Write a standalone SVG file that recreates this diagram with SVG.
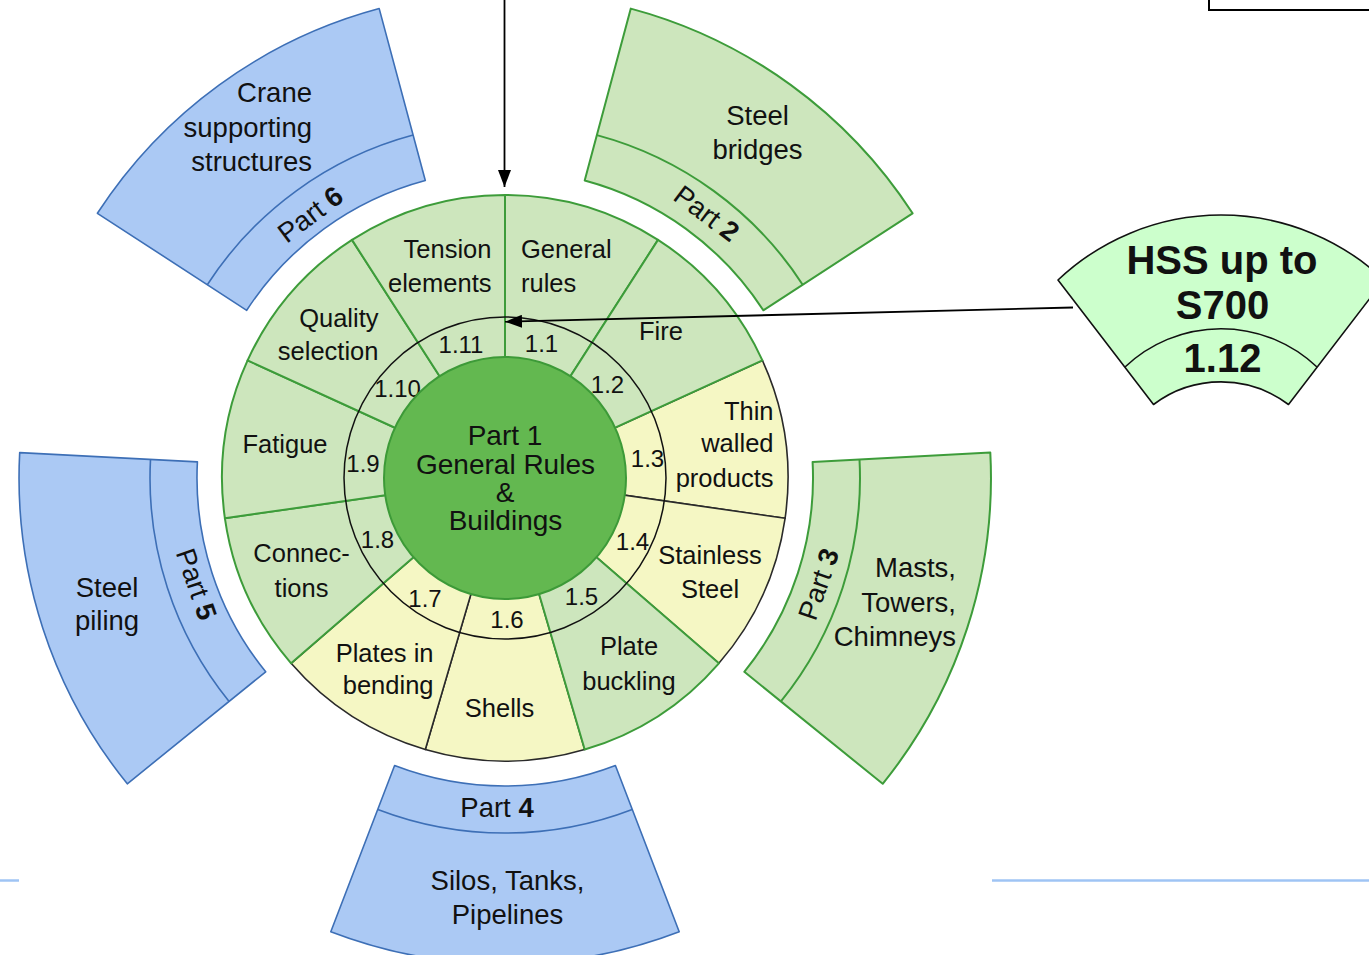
<svg xmlns="http://www.w3.org/2000/svg" width="1369" height="955" viewBox="0 0 1369 955">
  <style>
    text { font-family: "Liberation Sans", Arial, sans-serif; fill: #111; }
    .lbl { font-size: 25.5px; }
    .num { font-size: 24px; text-anchor: middle; }
    .mid { text-anchor: middle; }
    .end { text-anchor: end; }
    .start { text-anchor: start; }
    .big { font-size: 27.5px; }
    .ctr { font-size: 28px; text-anchor: middle; }
    .hss { font-size: 40px; font-weight: bold; text-anchor: middle; }
    .g { fill: #cde6bd; stroke: #3d9c3a; stroke-width: 2; stroke-linejoin: round; }
    .y { fill: #f5f7c4; stroke: #2a2a2a; stroke-width: 1.6; stroke-linejoin: round; }
    .pg { fill: #cde6bd; stroke: #3d9c3a; stroke-width: 2; stroke-linejoin: round; }
    .pb { fill: #abc9f4; stroke: #3d6fb6; stroke-width: 1.6; stroke-linejoin: round; }
    .dg { fill: none; stroke: #3d9c3a; stroke-width: 2; }
    .db { fill: none; stroke: #3d6fb6; stroke-width: 1.6; }
    .wire { fill: none; stroke: #000; stroke-width: 1.8; }
  </style>
  <defs>
    <marker id="head" markerUnits="userSpaceOnUse" markerWidth="17" markerHeight="13" viewBox="0 0 17 13" refX="17" refY="6.5" orient="auto">
      <path d="M0,0 L17,6.5 L0,13 z" fill="#000"/>
    </marker>
  </defs>

  <!-- guide lines near the bottom -->
  <g id="baselines">
    <line x1="0" y1="880.5" x2="19" y2="880.5" stroke="#9fc4f4" stroke-width="2.5"/>
    <line x1="992" y1="880.5" x2="1369" y2="880.5" stroke="#9fc4f4" stroke-width="2.5"/>
  </g>

  <!-- frame at the top right -->
  <g id="frame">
    <rect x="1209" y="-10" width="200" height="20" fill="none" stroke="#000" stroke-width="2"/>
  </g>

  <!-- Part 6 -->
  <g id="part6">
    <path class="pb" d="M246.7 310.3 L97.4 213.3 A486 486 0 0 1 379.2 8.6 L425.3 180.5 A308 308 0 0 0 246.7 310.3 Z"/>
    <path class="db" d="M207.3 284.7 A355 355 0 0 1 413.1 135.1"/>
    <text class="big end" x="312" y="102">Crane</text>
    <text class="big end" x="312" y="137">supporting</text>
    <text class="big end" x="312" y="171">structures</text>
    <text class="big mid" transform="translate(310 214) rotate(-37)" y="10">Part <tspan font-weight="bold">6</tspan></text>
  </g>

  <!-- Part 2 -->
  <g id="part2">
    <path class="pg" d="M584.7 180.5 L630.8 8.6 A486 486 0 0 1 912.6 213.3 L763.3 310.3 A308 308 0 0 0 584.7 180.5 Z"/>
    <path class="dg" d="M596.9 135.1 A355 355 0 0 1 802.7 284.7"/>
    <text class="big mid" x="757.5" y="125">Steel</text>
    <text class="big mid" x="757.5" y="159">bridges</text>
    <text class="big mid" transform="translate(707 213) rotate(37)" y="10">Part <tspan font-weight="bold">2</tspan></text>
  </g>

  <!-- Part 3 -->
  <g id="part3">
    <path class="pg" d="M812.6 461.9 L990.3 452.6 A486 486 0 0 1 882.7 783.8 L744.3 671.8 A308 308 0 0 0 812.6 461.9 Z"/>
    <path class="dg" d="M859.5 459.4 A355 355 0 0 1 780.9 701.4"/>
    <text class="big end" x="956" y="577">Masts,</text>
    <text class="big end" x="956" y="612">Towers,</text>
    <text class="big end" x="956" y="646">Chimneys</text>
    <text class="big mid" transform="translate(818 584) rotate(-71)" y="10">Part <tspan font-weight="bold">3</tspan></text>
  </g>

  <!-- Part 4 -->
  <g id="part4">
    <path class="pb" d="M615.4 765.5 L679.2 931.7 A486 486 0 0 1 330.8 931.7 L394.6 765.5 A308 308 0 0 0 615.4 765.5 Z"/>
    <path class="db" d="M632.2 809.4 A355 355 0 0 1 377.8 809.4"/>
    <text class="big mid" x="497" y="817">Part <tspan font-weight="bold">4</tspan></text>
    <text class="big mid" x="507.5" y="890">Silos, Tanks,</text>
    <text class="big mid" x="507.5" y="924">Pipelines</text>
  </g>

  <!-- Part 5 -->
  <g id="part5">
    <path class="pb" d="M265.7 671.8 L127.3 783.8 A486 486 0 0 1 19.7 452.6 L197.4 461.9 A308 308 0 0 0 265.7 671.8 Z"/>
    <path class="db" d="M229.1 701.4 A355 355 0 0 1 150.5 459.4"/>
    <text class="big mid" x="107" y="597">Steel</text>
    <text class="big mid" x="107" y="630">piling</text>
    <text class="big mid" transform="translate(197 584) rotate(71)" y="10">Part <tspan font-weight="bold">5</tspan></text>
  </g>

  <!-- Part 1: eleven sectors round the core -->
  <g id="part1-sectors">
    <path id="s1-3" class="y" d="M505 478 L762.4 360.4 A283 283 0 0 1 785.1 518.3 Z"/>
    <path id="s1-4" class="y" d="M505 478 L785.1 518.3 A283 283 0 0 1 718.9 663.3 Z"/>
    <path id="s1-6" class="y" d="M505 478 L584.7 749.5 A283 283 0 0 1 425.3 749.5 Z"/>
    <path id="s1-7" class="y" d="M505 478 L425.3 749.5 A283 283 0 0 1 291.1 663.3 Z"/>
    <path id="s1-1" class="g" d="M505 478 L505 195 A283 283 0 0 1 658 239.9 Z"/>
    <path id="s1-2" class="g" d="M505 478 L658 239.9 A283 283 0 0 1 762.4 360.4 Z"/>
    <path id="s1-5" class="g" d="M505 478 L718.9 663.3 A283 283 0 0 1 584.7 749.5 Z"/>
    <path id="s1-8" class="g" d="M505 478 L291.1 663.3 A283 283 0 0 1 224.9 518.3 Z"/>
    <path id="s1-9" class="g" d="M505 478 L224.9 518.3 A283 283 0 0 1 247.6 360.4 Z"/>
    <path id="s1-10" class="g" d="M505 478 L247.6 360.4 A283 283 0 0 1 352 239.9 Z"/>
    <path id="s1-11" class="g" d="M505 478 L352 239.9 A283 283 0 0 1 505 195 Z"/>
    <circle cx="505" cy="478" r="161" fill="none" stroke="#111" stroke-width="1.5"/>
  </g>

  <g id="part1-labels">
    <text class="lbl start" x="521" y="258">General</text>
    <text class="lbl start" x="521" y="292">rules</text>
    <text class="lbl mid" x="661" y="340">Fire</text>
    <text class="lbl end" x="773.5" y="420">Thin</text>
    <text class="lbl end" x="773.5" y="452">walled</text>
    <text class="lbl end" x="773.5" y="487">products</text>
    <text class="lbl mid" x="710" y="564">Stainless</text>
    <text class="lbl mid" x="710" y="598">Steel</text>
    <text class="lbl mid" x="629" y="655">Plate</text>
    <text class="lbl mid" x="629" y="690">buckling</text>
    <text class="lbl mid" x="499.5" y="717">Shells</text>
    <text class="lbl end" x="433.5" y="662">Plates in</text>
    <text class="lbl end" x="433.5" y="694">bending</text>
    <text class="lbl mid" x="301.5" y="562">Connec-</text>
    <text class="lbl mid" x="301.5" y="597">tions</text>
    <text class="lbl mid" x="285" y="453">Fatigue</text>
    <text class="lbl end" x="378.5" y="327">Quality</text>
    <text class="lbl end" x="378.5" y="360">selection</text>
    <text class="lbl end" x="491.5" y="258">Tension</text>
    <text class="lbl end" x="491.5" y="292">elements</text>

    <text class="num" x="541.5" y="352">1.1</text>
    <text class="num" x="607.5" y="393">1.2</text>
    <text class="num" x="647.5" y="467">1.3</text>
    <text class="num" x="632.5" y="550">1.4</text>
    <text class="num" x="581.5" y="605">1.5</text>
    <text class="num" x="507" y="628">1.6</text>
    <text class="num" x="425" y="607">1.7</text>
    <text class="num" x="377.5" y="548">1.8</text>
    <text class="num" x="363" y="472">1.9</text>
    <text class="num" x="397.5" y="397">1.10</text>
    <text class="num" x="461" y="353">1.11</text>
  </g>

  <!-- core -->
  <g id="part1-core">
    <circle cx="505" cy="478" r="121" fill="#63b850" stroke="#3d9a38" stroke-width="2"/>
    <text class="ctr" x="505" y="445">Part 1</text>
    <text class="ctr" x="505.5" y="473.5">General Rules</text>
    <text class="ctr" x="505" y="502">&amp;</text>
    <text class="ctr" x="505.5" y="530">Buildings</text>
  </g>

  <!-- added high-strength steel sector -->
  <g id="hss">
    <path d="M1058 280 A237 237 0 0 1 1384 280 L1288.5 404.5 A112 112 0 0 0 1153.5 404.5 Z" fill="#ccffcc" stroke="#111" stroke-width="1.6" stroke-linejoin="round"/>
    <path d="M1125 367 A139.5 139.5 0 0 1 1317 367" fill="none" stroke="#111" stroke-width="1.6"/>
    <text class="hss" x="1222" y="274">HSS up to</text>
    <text class="hss" x="1222.5" y="319">S700</text>
    <text class="hss" x="1222.5" y="372">1.12</text>
  </g>

  <!-- connectors -->
  <g id="connectors">
    <line class="wire" x1="504.5" y1="0" x2="504.5" y2="187" marker-end="url(#head)"/>
    <line class="wire" x1="1073" y1="307.5" x2="505" y2="321.7" marker-end="url(#head)"/>
  </g>
</svg>
